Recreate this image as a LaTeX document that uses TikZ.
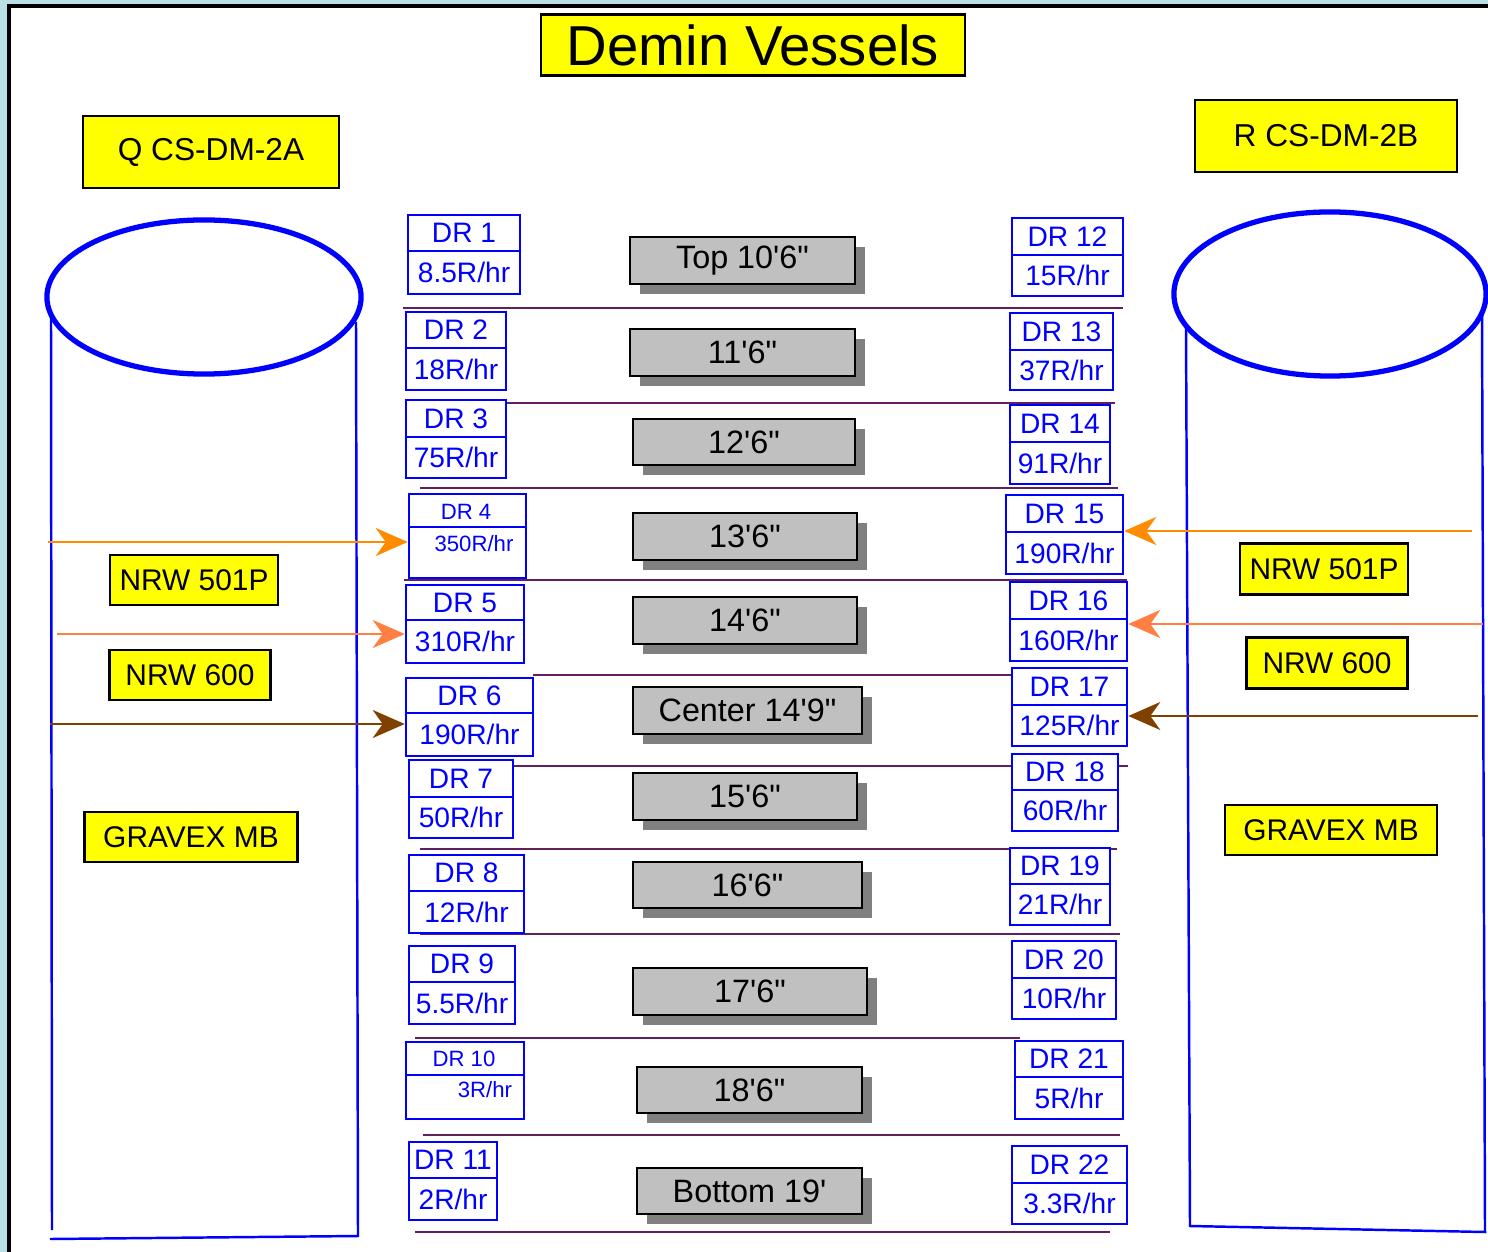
\documentclass[tikz,border=0pt]{standalone}
\usepackage{fontspec}
\newfontfamily\diagfont{Liberation Sans}
\definecolor{PanelBlue}{RGB}{185, 224, 228}
\definecolor{DrBlue}{RGB}{0, 0, 255}
\definecolor{TagYellow}{RGB}{255, 255, 0}
\definecolor{LevelGray}{RGB}{192, 192, 192}
\definecolor{ShadowGray}{RGB}{128, 128, 128}
\definecolor{SepPurple}{RGB}{96, 32, 96}
\definecolor{FlowOrange}{RGB}{255, 140, 0}
\definecolor{FlowCoral}{RGB}{255, 128, 64}
\definecolor{FlowBrown}{RGB}{128, 64, 0}
\usetikzlibrary{arrows.meta, shadows}

\begin{document}
\begin{tikzpicture}[x=0.01cm, y=-0.01cm, font=\diagfont,
  yellowtag/.style={draw=black, fill=TagYellow, line width=0.7pt, inner sep=0pt, font=\diagfont\fontsize{8.5}{10}\selectfont},
  drbox/.style={draw=DrBlue, fill=white, line width=0.7pt, inner sep=0pt},
  drtext/.style={text=DrBlue, inner sep=0pt, font=\diagfont\fontsize{8}{10}\selectfont},
  drsmall/.style={drtext, font=\diagfont\fontsize{6.3}{8}\selectfont},
  depthbox/.style={draw=black, fill=LevelGray, line width=0.8pt, inner sep=0pt, font=\diagfont\fontsize{9.2}{11}\selectfont,
    drop shadow={shadow xshift=0.1cm, shadow yshift=-0.1cm, fill=ShadowGray, opacity=1}},
  rowline/.style={SepPurple, line width=0.8pt},
  vessel/.style={DrBlue, line width=0.7pt},
  feed/.style={line width=0.7pt, -{Stealth[length=0.32cm, width=0.28cm, inset=0.1cm]}}]
\useasboundingbox (0,0) rectangle (1488,1252);
\fill[PanelBlue] (0,0) rectangle (1488,1252);
\fill[white] (9,6) rectangle (1488,1252);
\draw[line width=0.9pt] (9,1252) -- (9,6) -- (1488,6);

% the two vessels
\draw[vessel, line width=1.5pt] (204,297) ellipse [x radius=1.57cm, y radius=0.77cm];
\draw[vessel] (51,314) -- (52,1230);
\draw[vessel] (50,1239) -- (358,1236) -- (356,322);
\draw[vessel, line width=1.5pt] (1330,294) ellipse [x radius=1.56cm, y radius=0.82cm];
\draw[vessel] (1186,326) -- (1190,1226) -- (1485,1232) -- (1482,314);

% row separators
\foreach \xa/\xb/\y in {403/1123/308, 507/1115/403, 420/1118/488, 404/1127/580, 533/1012/675,
  513/1128/766, 420/1117/849, 420/1120/934, 415/1020/1038, 423/1120/1135, 415/1110/1232}
  \draw[rowline] (\xa,\y) -- (\xb,\y);

% labels
\node[yellowtag, minimum width=4.24cm, minimum height=0.61cm, font=\diagfont\fontsize{16}{18}\selectfont] (title) at (753,45) {Demin Vessels};
\node[yellowtag, minimum width=2.56cm, minimum height=0.72cm, font=\diagfont\fontsize{9}{11}\selectfont] (vesselA) at (211,152) {Q CS-DM-2A};
\node[yellowtag, minimum width=2.62cm, minimum height=0.72cm, font=\diagfont\fontsize{9}{11}\selectfont] (vesselB) at (1326,136) {R CS-DM-2B};
\node[yellowtag, minimum width=1.68cm, minimum height=0.50cm] (nrwA1) at (194,580) {NRW 501P};
\node[yellowtag, minimum width=1.61cm, minimum height=0.50cm] (nrwA2) at (190,675) {NRW 600};
\node[yellowtag, minimum width=2.13cm, minimum height=0.50cm] (gravA) at (191,837) {GRAVEX MB};
\node[yellowtag, minimum width=1.68cm, minimum height=0.51cm] (nrwB1) at (1324,569) {NRW 501P};
\node[yellowtag, minimum width=1.61cm, minimum height=0.51cm] (nrwB2) at (1327,663) {NRW 600};
\node[yellowtag, minimum width=2.12cm, minimum height=0.50cm] (gravB) at (1331,830) {GRAVEX MB};

% depth boxes
\foreach \n/\xa/\ya/\xb/\yb/\t in {1/630/237/855/284/Top 10'6", 2/630/329/855/376/11'6", 3/633/419/855/465/12'6",
  4/633/513/857/560/13'6", 5/633/597/857/644/14'6", 6/633/687/862/734/Center 14'9", 7/633/773/857/820/15'6",
  8/633/862/862/908/16'6", 9/633/968/867/1015/17'6", 10/637/1067/862/1113/18'6", 11/637/1168/862/1214/Bottom 19'} {
  \pgfmathsetmacro{\bw}{(\xb-\xa)/100}
  \pgfmathsetmacro{\bh}{(\yb-\ya)/100}
  \node[depthbox, minimum width=\bw cm, minimum height=\bh cm] (lvl\n) at ({(\xa+\xb)/2},{(\ya+\yb)/2}) {\t};
}

% dose rate boxes
\foreach \n/\xa/\ya/\xb/\yb/\yd/\rate in {1/408/215/520/294/251/8.5, 2/406/312/506/390/348/18, 3/406/400/506/478/437/75,
  5/406/585/524/663/620/310, 6/406/678/533/756/713/190, 7/409/760/513/838/797/50, 8/409/855/524/933/891/12,
  9/409/946/515/1024/982/5.5, 11/409/1142/497/1220/1178/2,
  12/1012/218/1123/296/255/15, 13/1010/313/1113/390/350/37, 14/1010/405/1110/484/442/91, 15/1006/495/1123/574/532/190,
  16/1010/582/1127/661/619/160, 17/1012/668/1127/746/705/125, 18/1012/754/1118/831/790/60, 19/1010/848/1110/925/884/21,
  20/1012/941/1116/1019/978/10, 21/1015/1041/1123/1119/1077/5, 22/1012/1146/1127/1224/1183/3.3} {
  \pgfmathsetmacro{\bw}{(\xb-\xa)/100}
  \pgfmathsetmacro{\bh}{(\yb-\ya)/100}
  \node[drbox, minimum width=\bw cm, minimum height=\bh cm] (dr\n) at ({(\xa+\xb)/2},{(\ya+\yb)/2}) {};
  \draw[DrBlue, line width=0.7pt] (\xa,\yd) -- (\xb,\yd);
  \node[drtext] (drt\n) at ({(\xa+\xb)/2},{(\ya+\yd)/2}) {DR \n};
  \node[drtext] (drr\n) at ({(\xa+\xb)/2},{(\yd+\yb)/2}) {\rate R/hr};
}
\node[drbox, minimum width=1.17cm, minimum height=0.84cm] (dr4) at (467.5,536) {};
\draw[DrBlue, line width=0.7pt] (409,527) -- (526,527);
\node[drsmall] (drt4) at (466,512) {DR 4};
\node[drsmall] (drr4) at (474,544) {350R/hr};
\node[drbox, minimum width=1.18cm, minimum height=0.77cm] (dr10) at (465,1080.5) {};
\draw[DrBlue, line width=0.7pt] (406,1075) -- (524,1075);
\node[drsmall] (drt10) at (464,1059) {DR 10};
\node[drsmall] (drr10) at (485,1090) {3R/hr};

% feeds into the vessels
\coordinate (srcA1) at (48,542);
\coordinate (srcA2) at (57,634);
\coordinate (srcA3) at (50,724);
\coordinate (srcB1) at (1472,531);
\coordinate (srcB2) at (1483,624);
\coordinate (srcB3) at (1478,716);
\draw[feed, FlowOrange] (srcA1) -- (srcA1 -| dr4.west);
\draw[feed, FlowCoral] (srcA2) -- (srcA2 -| dr5.west);
\draw[feed, FlowBrown] (srcA3) -- (srcA3 -| dr6.west);
\draw[feed, FlowOrange] (srcB1) -- (srcB1 -| dr15.east);
\draw[feed, FlowCoral] (srcB2) -- (srcB2 -| dr16.east);
\draw[feed, FlowBrown] (srcB3) -- (srcB3 -| dr17.east);
\end{tikzpicture}
\end{document}
